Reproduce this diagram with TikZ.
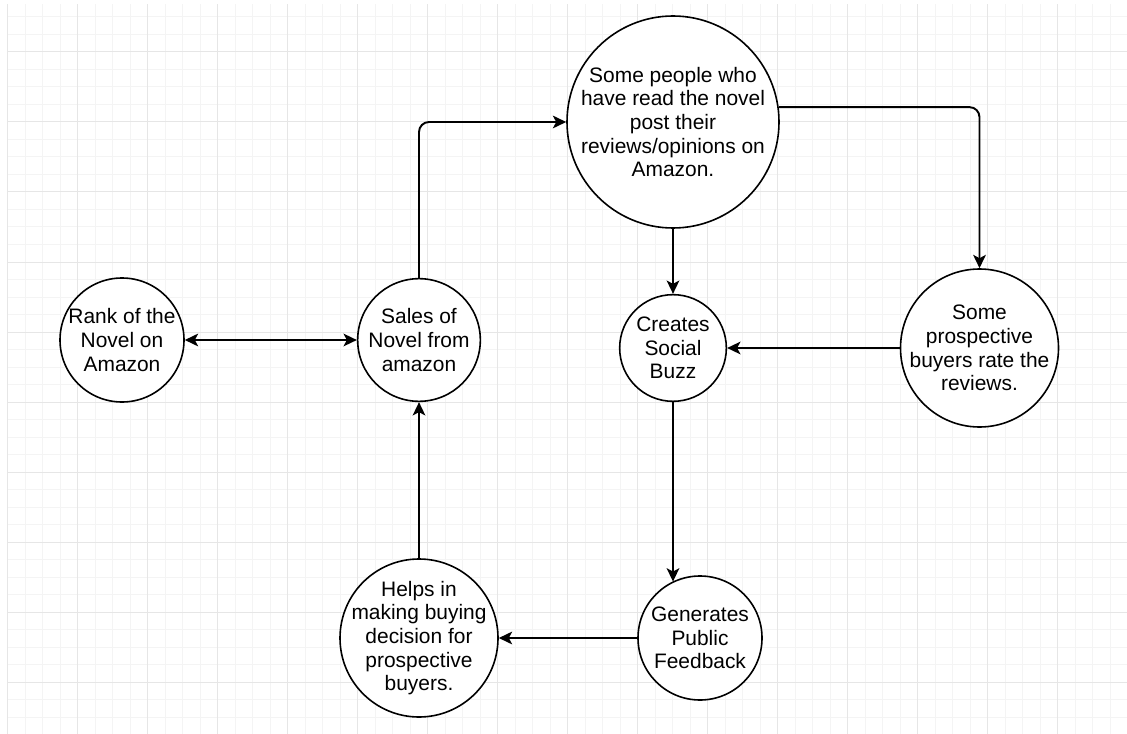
\documentclass[tikz,border=0pt]{standalone}
\usepackage{fontspec}
\setmainfont{Liberation Sans}
\usetikzlibrary{arrows.meta}

\definecolor{gridminor}{HTML}{F4F4F4}
\definecolor{gridmajor}{HTML}{E6E6E6}

\begin{document}
\begin{tikzpicture}[
  x=0.75pt,
  y=-0.75pt,
  >={Stealth[length=10pt,width=9.5pt,inset=2.5pt]},
  bubble/.style={
    circle,
    draw,
    fill=white,
    line width=1.2pt,
    inner sep=0pt
  },
  txt/.style={
    align=center,
    inner sep=0pt,
    font=\fontsize{15.7}{17.7}\selectfont
  },
  link/.style={
    ->,
    line width=1.45pt
  },
  minorline/.style={gridminor, line width=0.75pt},
  majorline/.style={gridmajor, line width=0.75pt}
]

\path[use as bounding box] (0,0) rectangle (1127,734);

% background grid
\foreach \gx in {7.5,25,...,1127} \draw[minorline] (\gx,4.5) -- (\gx,734);
\foreach \gy in {17,34.5,...,734} \draw[minorline] (7.5,\gy) -- (1127,\gy);
\foreach \gx in {7.5,77.5,...,1127} \draw[majorline] (\gx,4.5) -- (\gx,734);
\foreach \gy in {52,122,...,734} \draw[majorline] (7.5,\gy) -- (1127,\gy);

% circles
\node[bubble, minimum size=93pt]    (rank)   at (122,340)   {};
\node[bubble, minimum size=92pt]    (sales)  at (419,340)   {};
\node[bubble, minimum size=159pt]   (people) at (673,122)   {};
\node[bubble, minimum size=80pt]    (buzz)   at (673,348)   {};
\node[bubble, minimum size=118.5pt] (rate)   at (979.5,348) {};
\node[bubble, minimum size=93pt]    (public) at (700,638)   {};
\node[bubble, minimum size=118.5pt] (helps)  at (419,638)   {};

% texts
\node[txt] (rank-t)   at (rank)   {Rank of the\\Novel on\\Amazon};
\node[txt] (sales-t)  at (sales)  {Sales of\\Novel from\\amazon};
\node[txt] (people-t) at (people) {Some people who\\have read the novel\\post their\\reviews/opinions on\\Amazon.};
\node[txt] (buzz-t)   at (buzz)   {Creates\\Social\\Buzz};
\node[txt] (rate-t)   at (rate)   {Some\\prospective\\buyers rate the\\reviews.};
\node[txt] (public-t) at (public) {Generates\\Public\\Feedback};
\node[txt] (helps-t)  at (helps)  {Helps in\\making buying\\decision for\\prospective\\buyers.};

% arrows
\draw[link, <->] (rank) -- (sales);
\draw[link, rounded corners=7.5pt] (sales.north) |- (people.west);
\draw[link, rounded corners=7.5pt] (people.8) -| (rate.north);
\draw[link] (people.south) -- (buzz.north);
\draw[link] (rate.west) -- (buzz.east);
\draw[link] (buzz.south) -- (buzz.south |- public.116);
\draw[link] (public.west) -- (helps.east);
\draw[link] (helps.north) -- (sales.south);

\end{tikzpicture}
\end{document}
